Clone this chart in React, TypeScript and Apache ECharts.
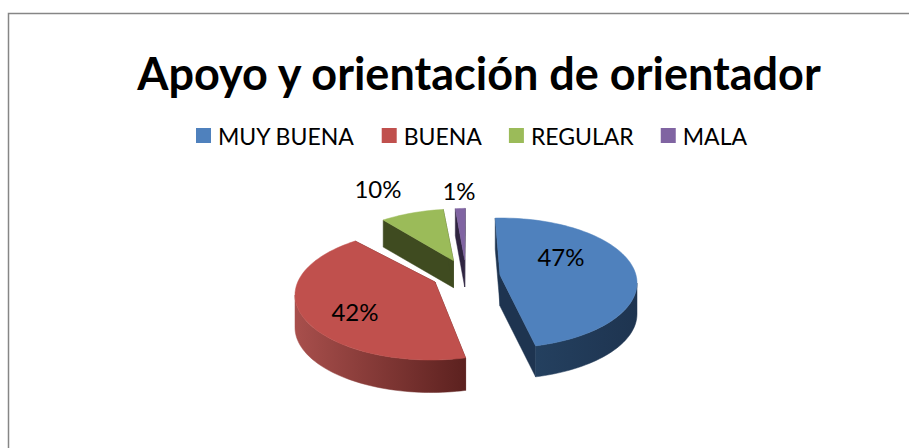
import React, { useEffect, useRef } from "react";
import * as echarts from "echarts";

const categories = ["MUY BUENA", "BUENA", "REGULAR", "MALA"];
const values = [46.6, 42.2, 9.9, 1.3];
const colors = ["#4F81BD", "#C0504D", "#9BBB59", "#8064A2"];
const wallLeft = ["#24405F", "#A84F4C", "#3F4B20", "#2F2440"];
const wallRight = ["#1E3450", "#5C211F", "#3F4B20", "#2F2440"];
const titleText = "Apoyo y orientación de orientador";

// Placement of each exploded slice: ellipse centre, apex offset from it, wall depth, label position.
const sliceCx = [501, 431, 459, 471];
const sliceCy = [283, 295, 274, 273.3];
const apexDx = [-1, 4, -5.5, -6.3];
const apexDy = [-8, -13, -13.3, -13.3];
const depths = [31, 32.5, 27, 27];
const labelX = [561, 355, 378, 459];
const labelY = [256.5, 311.5, 188, 190];
const RX = 136;
const RY = 65;
const START = -2.5;
const TILT = 9;

const total = values.reduce((a, b) => a + b, 0);

// Foreshortening of the angle in the upper-left quadrant of the tilted pie.
function warp(deg: number) {
  const d = ((deg % 360) + 360) % 360;
  if (d > 270) {
    const s = Math.sin((2 * d * Math.PI) / 180);
    return deg + TILT * s * s;
  }
  return deg;
}

function makeRender(i: number) {
  return (_params: any, api: any) => {
    const before = values.slice(0, i).reduce((a, b) => a + b, 0);
    const v = api.value(0);
    const a0 = warp(START + (before / total) * 360);
    const a1 = warp(START + ((before + v) / total) * 360);
    const cx = sliceCx[i];
    const cy = sliceCy[i];
    const ax = cx + apexDx[i];
    const ay = cy + apexDy[i];
    const d = depths[i];
    const pt = (deg: number, dy = 0): [number, number] => {
      const r = (deg * Math.PI) / 180;
      return [cx + RX * Math.sin(r), cy - RY * Math.cos(r) + dy];
    };
    const arcPts = (from: number, to: number, dy = 0) => {
      const out: [number, number][] = [];
      const n = Math.max(2, Math.ceil(Math.abs(to - from) / 2));
      for (let k = 0; k <= n; k++) out.push(pt(from + ((to - from) * k) / n, dy));
      return out;
    };
    const children: any[] = [];
    const wallFill = new echarts.graphic.LinearGradient(0, 0, 1, 0, [
      { offset: 0, color: wallLeft[i] },
      { offset: 1, color: wallRight[i] },
    ]);
    const poly = (points: [number, number][], fill: any) => ({
      type: "polygon",
      shape: { points },
      style: { fill, stroke: fill, lineWidth: 0.5 },
    });
    const s = pt(a0);
    const e = pt(a1);
    children.push(poly([s, [ax, ay], [ax, ay + d], [s[0], s[1] + d]], wallRight[i]));
    children.push(poly([e, [ax, ay], [ax, ay + d], [e[0], e[1] + d]], wallRight[i]));
    const wf = Math.max(a0, 90);
    const wt = Math.min(a1, 270);
    if (wt > wf) {
      const top = arcPts(wf, wt);
      const bottom = arcPts(wt, wf, d);
      children.push(poly([...top, ...bottom], wallFill));
    }
    children.push(poly([[ax, ay], ...arcPts(a0, a1)], colors[i]));
    children.push({
      type: "text",
      style: {
        x: labelX[i],
        y: labelY[i],
        text: `${Math.round((v / total) * 100)}%`,
        fill: "#000",
        font: "24px Lato",
        align: "center",
        verticalAlign: "middle",
      },
    });
    return { type: "group", children };
  };
}

export default function App() {
  const ref = useRef<HTMLDivElement>(null);
  useEffect(() => {
    document.body.style.margin = "0";
    const chart = echarts.init(ref.current!, undefined, { renderer: "svg" });
    chart.setOption({
      animation: false,
      backgroundColor: "#fff",
      title: {
        text: titleText,
        left: 474,
        top: 45,
        textAlign: "center",
        textStyle: { fontFamily: "Lato", fontWeight: "bold", fontSize: 45, color: "#000" },
      },
      legend: {
        data: categories,
        left: 196,
        top: 124,
        padding: 0,
        icon: "rect",
        itemWidth: 15,
        itemHeight: 15,
        itemGap: 27,
        textStyle: { fontFamily: "Lato", fontSize: 23, color: "#000", padding: [0, 0, 0, 2] },
      },
      graphic: [
        {
          type: "polyline",
          shape: { points: [[8.5, 448], [8.5, 13.5], [909, 13.5]] },
          style: { fill: "none", stroke: "#868686", lineWidth: 1.5 },
        },
      ],
      series: categories.map((name, i) => ({
        type: "custom",
        name,
        coordinateSystem: "none",
        itemStyle: { color: colors[i] },
        data: [[values[i]]],
        renderItem: makeRender(i),
      })),
    });
    return () => chart.dispose();
  }, []);
  return <div ref={ref} style={{ position: "absolute", left: 0, top: 0, width: 909, height: 448 }} />;
}
